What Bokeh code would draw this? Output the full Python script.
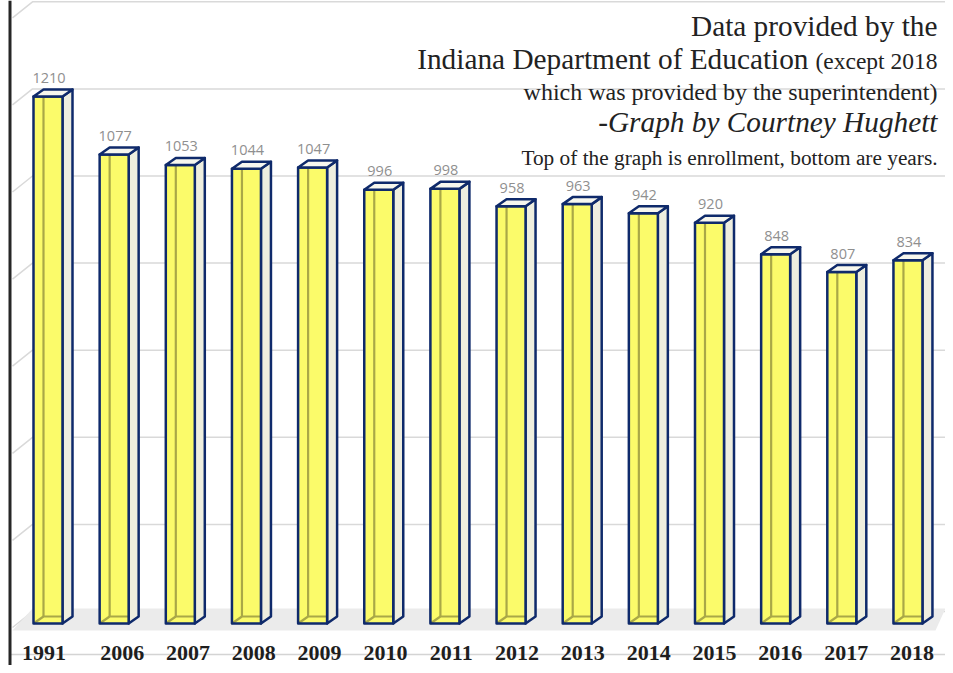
from bokeh.plotting import figure
from bokeh.models import Range1d, Span, Label, ColumnDataSource
from bokeh.embed import file_html
from bokeh.resources import INLINE
from bokeh.core.properties import value

# ---------------- data ----------------
years = ["1991", "2006", "2007", "2008", "2009", "2010", "2011",
         "2012", "2013", "2014", "2015", "2016", "2017", "2018"]
enrollment = [1210, 1077, 1053, 1044, 1047, 996, 998,
              958, 963, 942, 920, 848, 807, 834]
grid_values = [0, 200, 400, 600, 800, 1000, 1200, 1400]

# ---------------- geometry (pixels -> data) ----------------
W, H = 945, 665
PX_X = 66.15          # px per category
PX_Y = 0.4355         # px per enrollment unit
ORIGIN_X = 47.5       # px of first bar's centre
ORIGIN_Y = 623.0      # px (from top) of the zero line


def dx(px):
    return px / PX_X


def dy(px):
    return px / PX_Y


def sx(fx):
    return (fx - ORIGIN_X) / PX_X


def sy(fy):
    return (ORIGIN_Y - fy) / PX_Y


p = figure(width=W, height=H,
           x_range=Range1d(sx(0), sx(W)), y_range=Range1d(sy(H), sy(0)),
           output_backend="svg", toolbar_location=None, min_border=0)
p.axis.visible = False
p.grid.visible = False
p.outline_line_color = None
p.background_fill_color = "white"
p.border_fill_color = "white"

GRID = "#d9d9d9"
NAVY = "#0f2a6b"

# back-wall gridlines and left-wall diagonals
wall = dy(12)
gx, gy = [], []
for v in grid_values:
    gx.append([sx(12), sx(32), sx(W)])
    gy.append([v + wall - dy(16), v + wall, v + wall])
p.multi_line(gx, gy, line_color=GRID, line_width=1.5)

# floor
p.patch([sx(12), sx(32), sx(W), sx(935)],
        [sy(630), sy(608), sy(608), sy(630)],
        fill_color="#ebebeb", line_color=None)

# line through the year labels
p.line([sx(10), sx(W)], [sy(654), sy(654)], line_color="#d4d4d4", line_width=1.5)

# left frame line
p.add_layout(Span(location=sx(9.5), dimension="height",
                  line_color="#262626", line_width=3))

# ---------------- 3-D columns ----------------
n = len(enrollment)
idx = list(range(n))
hw = dx(14.5)
ox = dx(10)
oy = dy(7)

side_xs, side_ys, top_xs, top_ys = [], [], [], []
inner_xs, inner_ys = [], []
for i, v in zip(idx, enrollment):
    side_xs.append([i + hw, i + hw + ox, i + hw + ox, i + hw])
    side_ys.append([0, oy, v + oy, v])
    top_xs.append([i - hw, i - hw + ox, i + hw + ox, i + hw])
    top_ys.append([v, v + oy, v + oy, v])
    inner_xs.append([i - hw, i - hw + ox, i + hw])
    inner_ys.append([0, oy, oy])
    inner_xs.append([i - hw + ox, i - hw + ox])
    inner_ys.append([oy, v])

src = ColumnDataSource(dict(x=idx, top=enrollment))

p.patches(side_xs, side_ys, fill_color="#eeeedf", line_color=NAVY,
          line_width=2.5, line_join="round")
p.vbar(x="x", top="top", bottom=0, width=2 * hw, source=src,
       fill_color="#fbfb6a", line_color=None)
p.multi_line(inner_xs, inner_ys, line_color="#a9a847", line_width=2.2)
p.vbar(x="x", top="top", bottom=0, width=2 * hw, source=src,
       fill_color=None, line_color=NAVY, line_width=2.5, line_join="round")
p.patches(top_xs, top_ys, fill_color="#f7f7ee", line_color=NAVY,
          line_width=2.5, line_join="round")

# value labels
p.text(x=[i + dx(1) for i in idx], y=[v + dy(18.5) for v in enrollment],
       text=[str(v) for v in enrollment], text_align="center",
       text_baseline="middle", text_color="#8f8f8f",
       text_font=value("Open Sans"), text_font_size="14.5px")

# year labels
label_x = []
for i in idx:
    shift = -4.0 if i == 0 else 8.0 - (i - 1) * 4.0 / 12
    label_x.append(i + dx(shift))
p.text(x=label_x, y=[sy(652.5)] * n, text=years, text_align="center",
       text_baseline="middle", text_color="#1e1e1e",
       text_font=value("Liberation Serif"), text_font_style="bold",
       text_font_size="22px")

# ---------------- note text ----------------
SERIF = "Liberation Serif"
TXT = "#222222"


def note(text, right_px, mid_px, size, style="normal"):
    p.add_layout(Label(x=sx(right_px), y=sy(mid_px), text=text,
                       text_align="right", text_baseline="middle",
                       text_font=SERIF, text_font_size=size,
                       text_font_style=style, text_color=TXT))


note("Data provided by the", 937, 25.6, "29.3px")
note("Indiana Department of Education", 808, 58.4, "29.3px")
note("(except 2018", 937, 60.4, "23.5px")
note("which was provided by the superintendent)", 937, 91.9, "24px")
note("-Graph by Courtney Hughett", 937, 121.8, "29.3px", "italic")
note("Top of the graph is enrollment, bottom are years.", 937, 157.8, "21.3px")

open("out.html", "w").write(file_html(p, INLINE))
